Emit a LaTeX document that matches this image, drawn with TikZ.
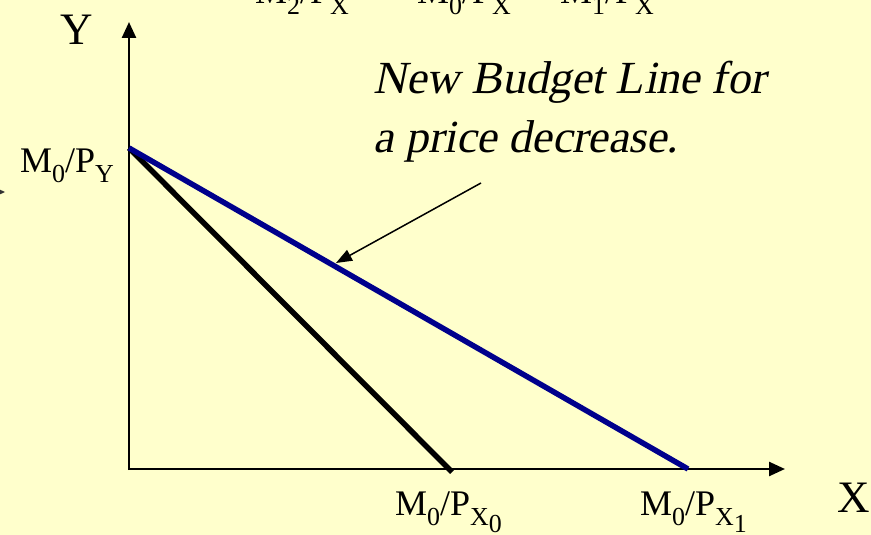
\documentclass[tikz,border=0pt]{standalone}
\usepackage{fontspec}
\setmainfont{Liberation Serif}
\newfontfamily\notefont{Liberation Serif}[FakeSlant=0.2]
\usetikzlibrary{arrows.meta}
\newcommand\lsub[1]{\raisebox{-0.28em}{\scalebox{0.72}{#1}}}
\newcommand\lsubb[1]{\raisebox{-0.3em}{#1}}
\definecolor{bg}{RGB}{255,255,204}
\definecolor{navy}{RGB}{0,0,140}
\begin{document}
\begin{tikzpicture}[x=1pt,y=-1pt,
  lbl/.style={inner sep=0pt,anchor=base west,font=\fontsize{36}{40}\selectfont},
  axislbl/.style={inner sep=0pt,anchor=base west,font=\fontsize{45}{50}\selectfont},
  note/.style={inner sep=0pt,anchor=base west,font=\notefont\fontsize{46}{59}\selectfont},
  axis/.style={line width=2.5pt,-{Triangle[length=16pt,width=14pt]}},
  budget/.style={line width=5.5pt}]
\fill[bg] (0,0) rectangle (871,535);
\useasboundingbox (0,0) rectangle (871,535);
\clip (0,0) rectangle (871,535);
% clipped top labels
\node[lbl] (t2) at (255,4) {M\lsub{2}/P\lsub{X}};
\node[lbl] (t0) at (417,4) {M\lsub{0}/P\lsub{X}};
\node[lbl] (t1) at (560,4) {M\lsub{1}/P\lsub{X}};
% left arrowhead fragment
\fill[black!80] (-8,186) -- (5,192) -- (-8,198) -- cycle;
% axes
\coordinate (O) at (129,469);
\coordinate (ytop) at (129,22);
\coordinate (xend) at (785,469);
\draw[axis] (129,470) -- (ytop);
\draw[axis] (128,469) -- (xend);
% budget lines
\coordinate (A) at (129,148);
\coordinate (B0) at (452,472);
\coordinate (B1) at (688,469);
\draw[budget,black] (A) -- (B0);
\draw[budget,navy] (A) -- (B1);
% labels
\node[axislbl] (Y) at (60,45) {Y};
\node[axislbl] (X) at (837,512) {X};
\node[lbl] (my) at (20,172) {M\lsub{0}/P\lsub{Y}};
\node[lbl] (mx0) at (395,515) {M\lsub{0}/P\lsub{X\lsubb{0}}};
\node[lbl] (mx1) at (640,515) {M\lsub{0}/P\lsub{X\lsubb{1}}};
\node[note] (n1) at (373,94) {New Budget Line for};
\node[note] (n2) at (373,153) {a price decrease.};
% pointer arrow
\coordinate (ps) at (481,183);
\coordinate (pe) at (336,263);
\draw[line width=1.5pt,-{Triangle[length=16pt,width=12pt]}] (ps) -- (pe);
\end{tikzpicture}
\end{document}
